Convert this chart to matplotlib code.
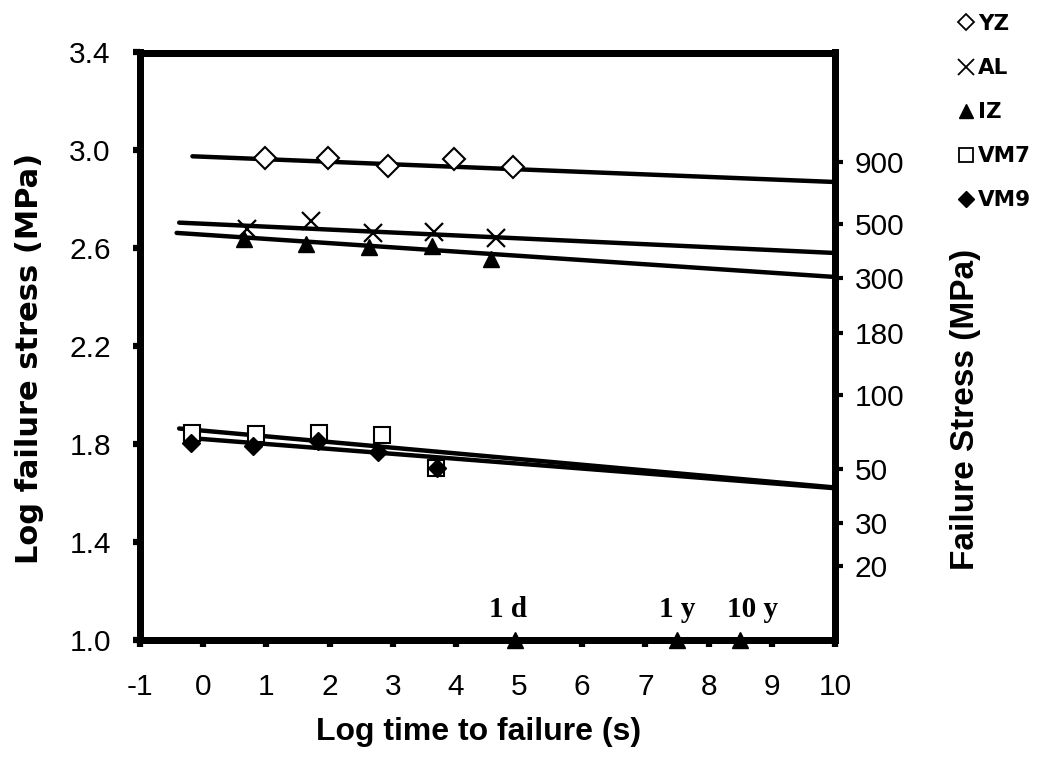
import numpy as np
import matplotlib
matplotlib.use("Agg")
import matplotlib.pyplot as plt
from matplotlib.lines import Line2D

plt.rcParams['font.family'] = ['Liberation Sans', 'DejaVu Sans']

# ---- data ----
series_names = ["YZ", "AL", "IZ", "VM7", "VM9"]

yz_x = [0.98, 1.97, 2.93, 3.97, 4.91]
yz_y = [2.970, 2.969, 2.938, 2.964, 2.932]
al_x = [0.69, 1.71, 2.68, 3.66, 4.64]
al_y = [2.680, 2.711, 2.662, 2.666, 2.642]
iz_x = [0.65, 1.62, 2.62, 3.62, 4.56]
iz_y = [2.640, 2.619, 2.605, 2.608, 2.558]
vm7_x = [-0.17, 0.84, 1.84, 2.83, 3.69]
vm7_y = [1.844, 1.840, 1.844, 1.837, 1.701]
vm9_x = [-0.20, 0.79, 1.82, 2.77, 3.70]
vm9_y = [1.803, 1.793, 1.813, 1.769, 1.701]

# fitted lines (start x, end x) and (start y, end y)
yz_fit_x = [-0.17, 10.0]
yz_fit_y = [2.976, 2.871]
al_fit_x = [-0.38, 10.0]
al_fit_y = [2.705, 2.581]
iz_fit_x = [-0.42, 10.0]
iz_fit_y = [2.663, 2.483]
vm7_fit_x = [-0.38, 10.0]
vm7_fit_y = [1.864, 1.623]
vm9_fit_x = [-0.26, 10.0]
vm9_fit_y = [1.826, 1.620]

# time markers
time_labels = ["1 d", "1 y", "10 y"]
time_x = [4.94, 7.50, 8.50]
time_y = [1.0, 1.0, 1.0]

x_ticks = list(range(-1, 11))
y_ticks = [1.0, 1.4, 1.8, 2.2, 2.6, 3.0, 3.4]
right_tick_values = [900, 500, 300, 180, 100, 50, 30, 20]

# ---- figure ----
fig = plt.figure(figsize=(10.5, 7.59), dpi=100)
ax = fig.add_axes([140/1050, 1-640/759, (835-140)/1050, (640-52.5)/759])

lw_fit = 3.2
for fx, fy in [(yz_fit_x, yz_fit_y), (al_fit_x, al_fit_y), (iz_fit_x, iz_fit_y),
               (vm7_fit_x, vm7_fit_y), (vm9_fit_x, vm9_fit_y)]:
    ax.plot(fx, fy, color='black', lw=lw_fit, solid_capstyle='round')

ax.plot(yz_x, yz_y, ls='none', marker='D', ms=11.5, mfc='white', mec='black', mew=1.5, zorder=5)
ax.plot(al_x, al_y, ls='none', marker='x', ms=13, mec='black', mew=1.6, zorder=5)
ax.plot(iz_x, iz_y, ls='none', marker='^', ms=11.5, mfc='black', mec='black', zorder=5)
ax.plot(vm7_x, vm7_y, ls='none', marker='s', ms=11.5, mfc='white', mec='black', mew=1.5, zorder=5)
ax.plot(vm9_x, vm9_y, ls='none', marker='D', ms=9, mfc='black', mec='black', zorder=6)

ax.plot(time_x, time_y, ls='none', marker='^', ms=12, color='black', clip_on=False, zorder=7)
label_dx = [-5, 0, 8.5]
for lab, tx, ty, dx in zip(time_labels, time_x, time_y, label_dx):
    ax.annotate(lab, (tx, ty), xytext=(dx, 22), textcoords='offset points',
                ha='center', va='center', fontsize=21, fontweight='bold',
                family=['Liberation Serif', 'DejaVu Serif'])

ax.set_xlim(-1, 10)
ax.set_ylim(1.0, 3.4)
ax.set_xticks(x_ticks)
ax.set_xticklabels([str(t) for t in x_ticks])
ax.set_yticks(y_ticks)
ax.set_yticklabels([f"{t:.1f}" for t in y_ticks])

for s in ax.spines.values():
    s.set_linewidth(5)
ax.tick_params(axis='both', direction='out', length=5, width=4.5, labelsize=21.5)
ax.tick_params(axis='y', pad=16)
ax.tick_params(axis='x', pad=19)

ax.set_xlabel("Log time to failure (s)", fontsize=23, fontweight='bold')
ax.xaxis.set_label_coords(0.487, -0.131)
ax.set_ylabel("Log failure stress (MPa)", fontsize=22, fontweight='bold',
              family=['DejaVu Sans'])
ax.yaxis.set_label_coords(-0.138, 0.48)

ax2 = ax.twinx()
ax2.set_ylim(ax.get_ylim())
ax2.set_yticks(np.log10(right_tick_values))
ax2.set_yticklabels([str(v) for v in right_tick_values])
for s in ax2.spines.values():
    s.set_linewidth(5)
ax2.tick_params(axis='y', direction='out', length=6, width=3, labelsize=21.5, pad=8)
ax2.set_ylabel("Failure Stress (MPa)", fontsize=24, fontweight='bold')
ax2.yaxis.set_label_coords(1.165, 0.393)

handles = [
    Line2D([], [], ls='none', marker='D', ms=8, mfc='none', mec='black', mew=1.3),
    Line2D([], [], ls='none', marker='x', ms=11, mec='black', mew=1.3),
    Line2D([], [], ls='none', marker='^', ms=10, mfc='black', mec='black'),
    Line2D([], [], ls='none', marker='s', ms=10, mfc='none', mec='black', mew=1.3),
    Line2D([], [], ls='none', marker='D', ms=8, mfc='black', mec='black'),
]
fig.legend(handles, series_names, loc='upper left', bbox_to_anchor=(960/1050, 1-14/759),
           frameon=False, handlelength=0.6, handletextpad=0.25, labelspacing=1.12,
           prop={'family': 'DejaVu Sans', 'weight': 'bold', 'size': 15.5},
           borderaxespad=0, borderpad=0)

fig.savefig("out.png", dpi=100)
